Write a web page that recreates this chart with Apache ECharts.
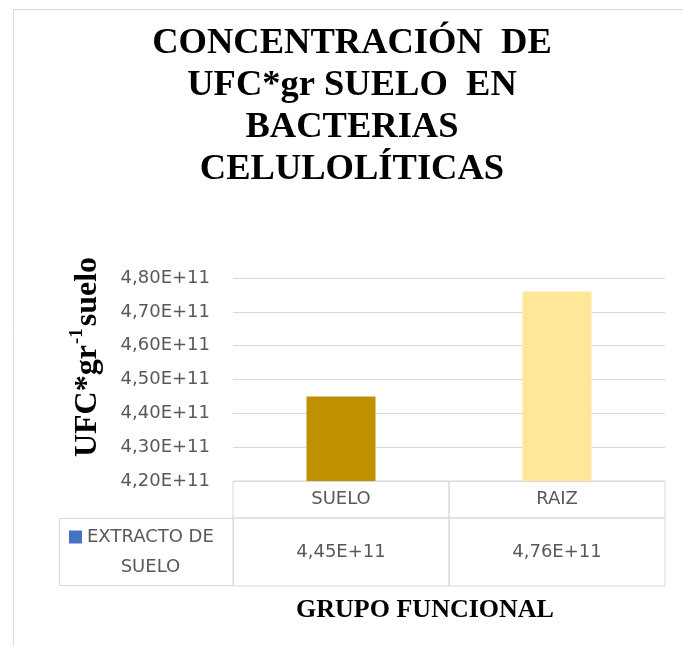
<!DOCTYPE html>
<html>
<head>
<meta charset="utf-8">
<script src="https://cdn.jsdelivr.net/npm/echarts@6/dist/echarts.min.js"></script>
<style>html,body{margin:0;padding:0;background:#fff}#c{width:683px;height:646px}</style>
</head>
<body>
<div id="c"></div>
<script>
const categories = ['SUELO', 'RAIZ'];
const values = [4.45e11, 4.76e11];
const seriesName = 'EXTRACTO DE SUELO';
const yMin = 4.2e11, yMax = 4.8e11, yStep = 0.1e11;
const titleLines = ['CONCENTRACIÓN  DE', 'UFC*gr SUELO  EN', 'BACTERIAS', 'CELULOLÍTICAS'];
const xName = 'GRUPO FUNCIONAL';

const barColors = ['#BF9000', '#FFE699'];
const fmt = v => (v / 1e11).toFixed(2).replace('.', ',') + 'E+11';
const sans = 'DejaVu Sans';
const serif = 'Liberation Serif';
const border = '#d9d9d9';
const textGray = '#595959';

const chart = echarts.init(document.getElementById('c'));
chart.setOption({
  animation: false,
  title: {
    text: titleLines.join('\n'),
    left: 347, top: 18, textAlign: 'center',
    textStyle: { fontFamily: serif, fontWeight: 'bold', fontSize: 36.5, lineHeight: 42, color: '#000' }
  },
  legend: {
    data: [seriesName],
    left: 69, top: 492, padding: 0,
    itemWidth: 13, itemHeight: 13, icon: 'rect',
    formatter: () => '{a|EXTRACTO DE}\n{a|SUELO}',
    textStyle: {
      fontFamily: sans, fontSize: 18, color: textGray, lineHeight: 30, padding: [30, 0, 0, 0],
      rich: { a: { fontFamily: sans, fontSize: 18, color: textGray, lineHeight: 30, align: 'center' } }
    }
  },
  grid: [
    { left: 233, right: 18, top: 278, bottom: 165 },
    { left: 233, right: 18, top: 481, bottom: 60 }
  ],
  xAxis: [
    { type: 'category', gridIndex: 0, data: categories, axisLine: { show: false }, axisTick: { show: false }, axisLabel: { show: false } },
    { type: 'category', gridIndex: 1, data: categories, show: false }
  ],
  yAxis: [
    {
      type: 'value', gridIndex: 0, min: yMin, max: yMax, interval: yStep,
      axisLine: { show: false }, axisTick: { show: false },
      axisLabel: { formatter: fmt, fontFamily: sans, fontSize: 18, color: textGray, margin: 23 },
      splitLine: { lineStyle: { color: border, width: 1 } }
    },
    { type: 'value', gridIndex: 1, min: 0, max: 1, show: false }
  ],
  series: [
    {
      type: 'bar', name: seriesName, xAxisIndex: 0, yAxisIndex: 0,
      barWidth: 69, itemStyle: { color: '#4472C4' },
      data: values.map((v, i) => ({ value: v, itemStyle: { color: barColors[i] } }))
    },
    {
      type: 'custom', xAxisIndex: 1, yAxisIndex: 1, silent: true,
      data: categories.map((c, i) => [i, values[i]]),
      renderItem: (params, api) => {
        const i = api.value(0);
        const cx = api.coord([i, 0])[0];
        const w = api.size([1, 0])[0];
        const cs = params.coordSys;
        const x0 = cx - w / 2, top = cs.y, h = cs.height, hh = 37;
        const ls = { stroke: border, fill: null, lineWidth: 1 };
        return {
          type: 'group',
          children: [
            { type: 'rect', shape: { x: x0, y: top, width: w, height: hh }, style: ls },
            { type: 'rect', shape: { x: x0, y: top + hh, width: w, height: h - hh }, style: ls },
            { type: 'text', style: { text: categories[i], x: cx, y: top + hh / 2, align: 'center', verticalAlign: 'middle', fontFamily: sans, fontSize: 18, fill: textGray } },
            { type: 'text', style: { text: fmt(api.value(1)), x: cx, y: top + hh + (h - hh) / 2, align: 'center', verticalAlign: 'middle', fontFamily: sans, fontSize: 18, fill: textGray } }
          ]
        };
      }
    }
  ],
  graphic: [
    { type: 'rect', shape: { x: 13.5, y: 9.5, width: 700, height: 700 }, style: { stroke: border, fill: null, lineWidth: 1 }, z: -1, silent: true },
    { type: 'rect', shape: { x: 59.5, y: 518.5, width: 174, height: 67 }, style: { stroke: border, fill: null, lineWidth: 1 }, silent: true },
    {
      type: 'text', x: 86, y: 357, rotation: Math.PI / 2, silent: true,
      style: {
        text: '{a|UFC*gr}{s|-1}{a|suelo}', align: 'center', verticalAlign: 'middle',
        rich: {
          a: { fontFamily: serif, fontWeight: 'bold', fontSize: 32, fill: '#000', lineHeight: 36, verticalAlign: 'bottom' },
          s: { fontFamily: serif, fontWeight: 'bold', fontSize: 19, fill: '#000', lineHeight: 36, verticalAlign: 'top', padding: [0, 2, 0, 1] }
        }
      }
    },
    {
      type: 'text', x: 425, y: 610, silent: true,
      style: { text: xName, align: 'center', verticalAlign: 'middle', fontFamily: serif, fontWeight: 'bold', fontSize: 26, fill: '#000' }
    }
  ]
});
</script>
</body>
</html>
